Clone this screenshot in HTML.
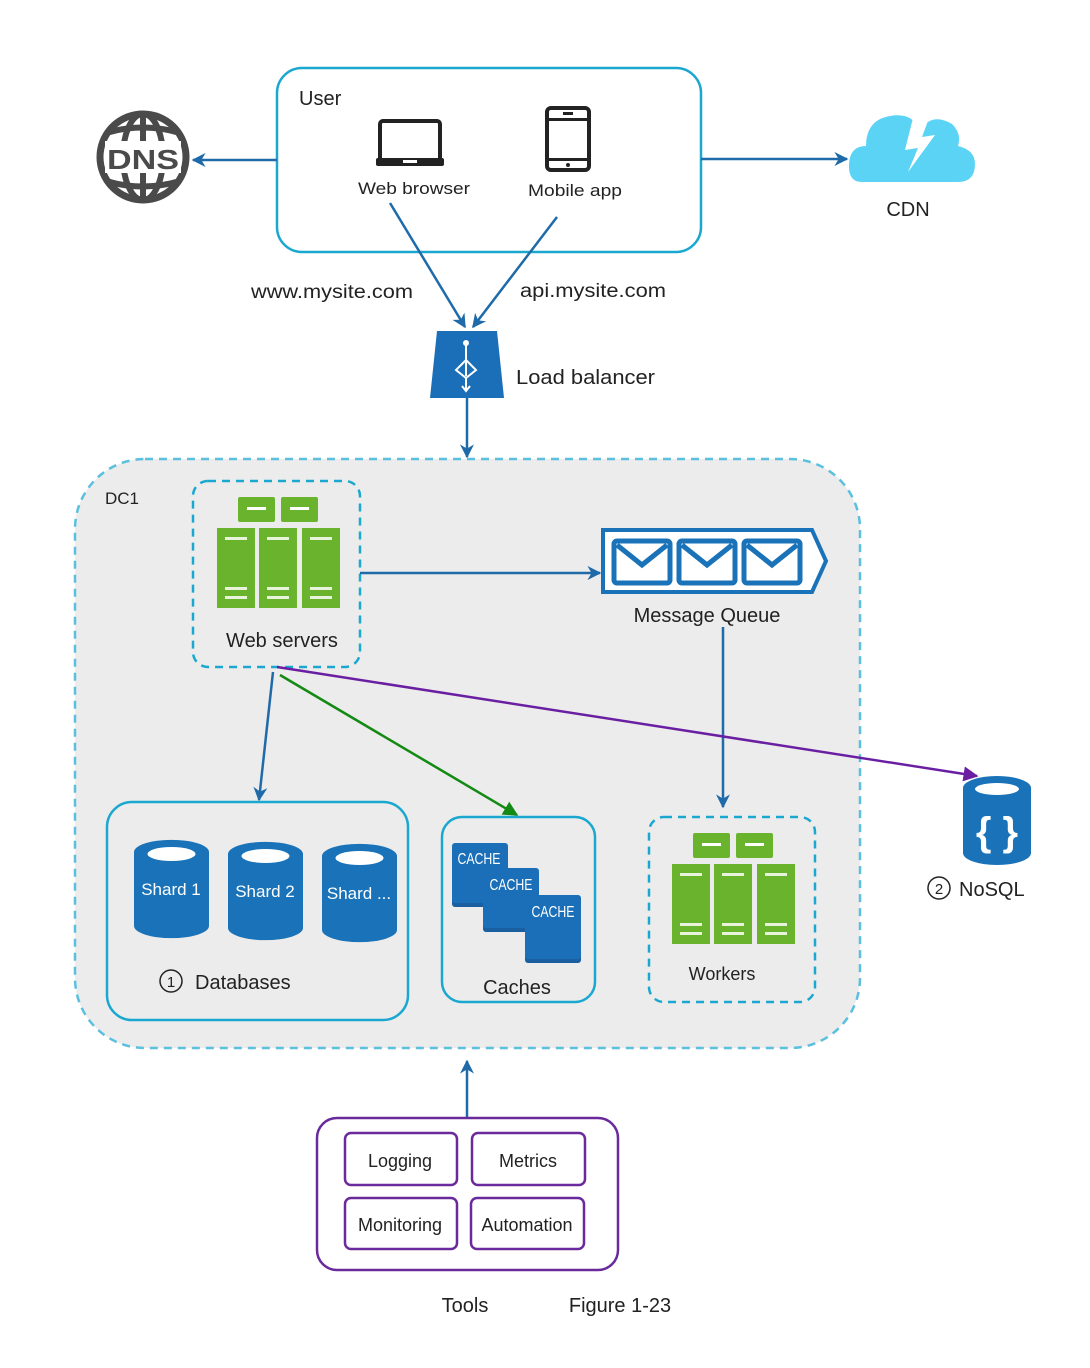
<!DOCTYPE html>
<html><head><meta charset="utf-8"><style>
html,body{margin:0;padding:0;background:#fff;}
svg{display:block;font-family:"Liberation Sans",sans-serif;}
</style></head><body>
<svg width="1090" height="1368" viewBox="0 0 1090 1368" xmlns="http://www.w3.org/2000/svg">
<defs>
<marker id="ab" viewBox="0 0 10 10" refX="9" refY="5" markerWidth="14" markerHeight="14" orient="auto-start-reverse" markerUnits="userSpaceOnUse"><path d="M0,0 L10,5 L0,10 L3,5z" fill="#1f6aa8"/></marker>
<marker id="ag" viewBox="0 0 10 10" refX="9" refY="5" markerWidth="15" markerHeight="15" orient="auto" markerUnits="userSpaceOnUse"><path d="M0,0 L10,5 L0,10z" fill="#138a13"/></marker>
<marker id="ap" viewBox="0 0 10 10" refX="9" refY="5" markerWidth="15" markerHeight="15" orient="auto" markerUnits="userSpaceOnUse"><path d="M0,0 L10,5 L0,10z" fill="#6a1fa3"/></marker>
<g id="srv">
<rect x="21" y="0" width="37" height="25" rx="2" fill="#6ab42d"/>
<rect x="64" y="0" width="37" height="25" rx="2" fill="#6ab42d"/>
<rect x="30" y="10" width="19" height="3" fill="#fff"/><rect x="73" y="10" width="19" height="3" fill="#fff"/>
<rect x="0" y="31" width="38" height="80" fill="#6ab42d"/>
<rect x="42" y="31" width="38" height="80" fill="#6ab42d"/>
<rect x="85" y="31" width="38" height="80" fill="#6ab42d"/>
<g fill="#e8f3dc"><rect x="8" y="40" width="22" height="3"/><rect x="50" y="40" width="22" height="3"/><rect x="93" y="40" width="22" height="3"/>
<rect x="8" y="90" width="22" height="3"/><rect x="50" y="90" width="22" height="3"/><rect x="93" y="90" width="22" height="3"/>
<rect x="8" y="99" width="22" height="3"/><rect x="50" y="99" width="22" height="3"/><rect x="93" y="99" width="22" height="3"/></g>
</g>
<g id="cyl">
<path d="M0,12 A37,12 0 0 1 75,12 L75,86 A37,12 0 0 1 0,86z" fill="#1a73b8"/>
<ellipse cx="37.5" cy="14" rx="24" ry="7" fill="#fff"/>
</g>
<g id="env"><rect x="0" y="0" width="56" height="42" rx="3" fill="none" stroke="#1a73b8" stroke-width="5"/><path d="M3,4 L28,24 L53,4" fill="none" stroke="#1a73b8" stroke-width="5"/></g>
</defs>

<rect x="277" y="68" width="424" height="184" rx="25" fill="#fff" stroke="#1aa7d0" stroke-width="2.5"/>
<text x="299" y="105" font-size="20" fill="#222">User</text>
<rect x="380" y="121" width="60" height="40" rx="3" fill="none" stroke="#222" stroke-width="4"/>
<rect x="376" y="158" width="68" height="8" rx="2" fill="#222"/>
<rect x="403" y="160" width="14" height="3" fill="#fff"/>
<text x="414" y="194" font-size="17" text-anchor="middle" fill="#222" textLength="112" lengthAdjust="spacingAndGlyphs">Web browser</text>
<rect x="547" y="108" width="42" height="62" rx="4" fill="none" stroke="#222" stroke-width="4"/>
<rect x="547" y="118" width="42" height="3" fill="#222"/><rect x="547" y="158" width="42" height="3" fill="#222"/>
<rect x="563" y="112" width="10" height="3" fill="#222"/><circle cx="568" cy="165" r="2" fill="#222"/>
<text x="575" y="196" font-size="17" text-anchor="middle" fill="#222" textLength="94" lengthAdjust="spacingAndGlyphs">Mobile app</text>

<circle cx="143" cy="157" r="43" fill="none" stroke="#4a4a4a" stroke-width="7"/>
<ellipse cx="143" cy="157" rx="20" ry="43" fill="none" stroke="#4a4a4a" stroke-width="6"/>
<line x1="143" y1="114" x2="143" y2="200" stroke="#4a4a4a" stroke-width="6"/>
<path d="M106,133 Q143,122 180,133 M106,181 Q143,192 180,181" fill="none" stroke="#4a4a4a" stroke-width="6"/>
<rect x="105" y="141" width="76" height="32" fill="#fff"/>
<text x="143" y="169" font-size="28" font-weight="bold" text-anchor="middle" fill="#4a4a4a" textLength="72" lengthAdjust="spacingAndGlyphs">DNS</text>
<line x1="277" y1="160" x2="193" y2="160" stroke="#1f6aa8" stroke-width="2.5" marker-end="url(#ab)"/>

<line x1="701" y1="159" x2="847" y2="159" stroke="#1f6aa8" stroke-width="2.5" marker-end="url(#ab)"/>
<path d="M862,182 Q848,182 849,164 Q850,146 866,146 Q866,120 890,116 Q912,112 920,130 Q932,112 952,124 Q962,134 958,146 Q975,150 975,164 Q975,182 958,182z" fill="#5bd3f5"/>
<path d="M915,110 L905,150 L918,148 L908,172 L935,135 L922,137 L932,110z" fill="#fff"/>
<text x="908" y="216" font-size="20" text-anchor="middle" fill="#222">CDN</text>

<line x1="390" y1="203" x2="465" y2="327" stroke="#1f6aa8" stroke-width="2.5" marker-end="url(#ab)"/>
<line x1="557" y1="217" x2="473" y2="327" stroke="#1f6aa8" stroke-width="2.5" marker-end="url(#ab)"/>
<text x="332" y="298" font-size="19" text-anchor="middle" fill="#222" textLength="162" lengthAdjust="spacingAndGlyphs">www.mysite.com</text>
<text x="593" y="297" font-size="19" text-anchor="middle" fill="#222" textLength="146" lengthAdjust="spacingAndGlyphs">api.mysite.com</text>

<path d="M437,331 L497,331 L504,398 L430,398z" fill="#1a6fb8"/>
<circle cx="466" cy="343" r="3" fill="#fff"/>
<path d="M466,343 L466,376 M466,360 L456,370 L466,378 M466,360 L476,370 L466,378 M466,378 L466,390 M462,386 L466,391 L470,386" fill="none" stroke="#fff" stroke-width="2"/>
<text x="516" y="384" font-size="20" fill="#222" textLength="139" lengthAdjust="spacingAndGlyphs">Load balancer</text>
<line x1="467" y1="398" x2="467" y2="457" stroke="#1f6aa8" stroke-width="2.5" marker-end="url(#ab)"/>

<rect x="75" y="459" width="785" height="589" rx="70" fill="#ececec" stroke="#5bc0de" stroke-width="2.5" stroke-dasharray="8,6"/>
<text x="105" y="504" font-size="17" fill="#222">DC1</text>

<rect x="193" y="481" width="167" height="186" rx="15" fill="none" stroke="#1aa7d0" stroke-width="2.5" stroke-dasharray="8,6"/>
<use href="#srv" transform="translate(217,497)"/>
<text x="282" y="647" font-size="20" text-anchor="middle" fill="#222">Web servers</text>
<line x1="360" y1="573" x2="600" y2="573" stroke="#1f6aa8" stroke-width="2.5" marker-end="url(#ab)"/>

<path d="M603,530 L812,530 L826,561 L812,592 L603,592z" fill="#fff" stroke="#1a73b8" stroke-width="4"/>
<use href="#env" transform="translate(614,541)"/>
<use href="#env" transform="translate(679,541)"/>
<use href="#env" transform="translate(744,541)"/>
<text x="707" y="622" font-size="20" text-anchor="middle" fill="#222">Message Queue</text>
<line x1="723" y1="627" x2="723" y2="807" stroke="#1f6aa8" stroke-width="2.5" marker-end="url(#ab)"/>

<line x1="273" y1="672" x2="259" y2="800" stroke="#1f6aa8" stroke-width="2.5" marker-end="url(#ab)"/>
<line x1="280" y1="675" x2="517" y2="815" stroke="#138a13" stroke-width="2.5" marker-end="url(#ag)"/>
<line x1="277" y1="667" x2="977" y2="776" stroke="#6a1fa3" stroke-width="2.5" marker-end="url(#ap)"/>

<rect x="107" y="802" width="301" height="218" rx="25" fill="none" stroke="#1aa7d0" stroke-width="2.5"/>
<use href="#cyl" transform="translate(134,840)"/>
<use href="#cyl" transform="translate(228,842)"/>
<use href="#cyl" transform="translate(322,844)"/>
<text x="171" y="895" font-size="17" text-anchor="middle" fill="#fff">Shard 1</text>
<text x="265" y="897" font-size="17" text-anchor="middle" fill="#fff">Shard 2</text>
<text x="359" y="899" font-size="17" text-anchor="middle" fill="#fff">Shard ...</text>
<circle cx="171" cy="981" r="11" fill="none" stroke="#222" stroke-width="1.5"/>
<text x="171" y="987" font-size="15" text-anchor="middle" fill="#222">1</text>
<text x="195" y="989" font-size="20" fill="#222">Databases</text>

<rect x="442" y="817" width="153" height="185" rx="20" fill="none" stroke="#1aa7d0" stroke-width="2.5"/>
<rect x="452" y="845" width="56" height="62" rx="3" fill="#1a5fa0"/>
<rect x="452" y="843" width="56" height="60" rx="3" fill="#1a6fb8"/>
<rect x="483" y="870" width="56" height="62" rx="3" fill="#1a5fa0"/>
<rect x="483" y="868" width="56" height="60" rx="3" fill="#1a6fb8"/>
<rect x="525" y="897" width="56" height="66" rx="3" fill="#1a5fa0"/>
<rect x="525" y="895" width="56" height="64" rx="3" fill="#1a6fb8"/>
<g font-size="16" fill="#fff" text-anchor="middle"><text x="479" y="864" textLength="43" lengthAdjust="spacingAndGlyphs">CACHE</text><text x="511" y="890" textLength="43" lengthAdjust="spacingAndGlyphs">CACHE</text><text x="553" y="917" textLength="43" lengthAdjust="spacingAndGlyphs">CACHE</text></g>
<text x="517" y="994" font-size="20" text-anchor="middle" fill="#222">Caches</text>

<rect x="649" y="817" width="166" height="185" rx="15" fill="none" stroke="#1aa7d0" stroke-width="2.5" stroke-dasharray="8,6"/>
<use href="#srv" transform="translate(672,833)"/>
<text x="722" y="980" font-size="18" text-anchor="middle" fill="#222">Workers</text>

<path d="M963,788 A34,12 0 0 1 1031,788 L1031,853 A34,12 0 0 1 963,853z" fill="#1a73b8"/>
<ellipse cx="997" cy="789" rx="22" ry="6" fill="#fff"/>
<text x="997" y="845" font-size="40" font-weight="bold" text-anchor="middle" fill="#fff">{ }</text>
<circle cx="939" cy="888" r="11" fill="none" stroke="#222" stroke-width="1.5"/>
<text x="939" y="894" font-size="15" text-anchor="middle" fill="#222">2</text>
<text x="959" y="896" font-size="20" fill="#222">NoSQL</text>

<line x1="467" y1="1118" x2="467" y2="1061" stroke="#1f6aa8" stroke-width="2.5" marker-end="url(#ab)"/>
<rect x="317" y="1118" width="301" height="152" rx="20" fill="#fff" stroke="#6a2a9c" stroke-width="2.5"/>
<g fill="#fff" stroke="#6a2a9c" stroke-width="2.5">
<rect x="345" y="1133" width="112" height="52" rx="6"/><rect x="472" y="1133" width="113" height="52" rx="6"/>
<rect x="345" y="1198" width="112" height="51" rx="6"/><rect x="471" y="1198" width="113" height="51" rx="6"/>
</g>
<g font-size="18" text-anchor="middle" fill="#222">
<text x="400" y="1167">Logging</text><text x="528" y="1167">Metrics</text>
<text x="400" y="1231">Monitoring</text><text x="527" y="1231">Automation</text>
</g>
<text x="465" y="1312" font-size="20" text-anchor="middle" fill="#222">Tools</text>
<text x="620" y="1312" font-size="20" text-anchor="middle" fill="#222">Figure 1-23</text>
</svg>
</body></html>
